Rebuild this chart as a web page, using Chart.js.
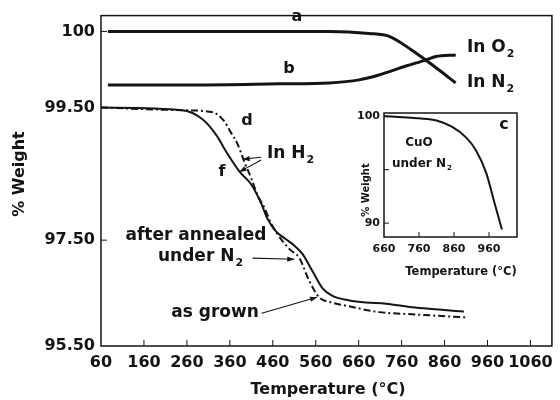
<!DOCTYPE html>
<html><head><meta charset="utf-8">
<script src="https://cdn.jsdelivr.net/npm/chart.js@4/dist/chart.umd.min.js"></script>
<style>
html,body{margin:0;padding:0;background:#fff;}
#wrap{position:relative;width:560px;height:400px;background:#fff;}
canvas{position:absolute;left:0;top:0;}
</style></head><body>
<div id="wrap"><canvas id="main" width="560" height="400"></canvas><canvas id="inset" width="560" height="400"></canvas></div>
<script>
// ---------- data ----------
const xTickValues = [60,160,260,360,460,560,660,760,860,960,1060];
const yTickValues = [95.5, 97.5, 99.5, 100];
const yTickLabels = ['95.50','97.50','99.50','100'];

// curve a (In N2, wavy trace)
const tempA   = [76, 290, 522, 591, 684, 731, 784, 816, 847, 886];
const weightA = [100.0, 100.0, 100.0, 100.0, 99.987, 99.968, 99.877, 99.812, 99.747, 99.662];
// curve b (In O2, wavy trace)
const tempB   = [76, 290, 475, 591, 661, 707, 770, 816, 840, 886];
const weightB = [99.649, 99.649, 99.656, 99.662, 99.682, 99.714, 99.773, 99.812, 99.835, 99.846];
// curve f (solid, after annealed under N2)
const tempF   = [60, 250, 297, 329, 352, 383, 410, 434, 447, 468, 489, 510, 529, 552, 575, 598, 638, 677, 724, 784, 847, 905];
const weightF = [99.50, 99.46, 99.32, 99.08, 98.83, 98.53, 98.34, 98.04, 97.83, 97.63, 97.52, 97.40, 97.24, 96.92, 96.60, 96.45, 96.36, 96.32, 96.30, 96.23, 96.19, 96.15];
// curve d (dash-dot, as grown)
const tempD   = [60, 250, 320, 345, 362, 378, 394, 410, 424, 441, 457, 471, 499, 522, 545, 568, 598, 638, 707, 784, 909];
const weightD = [99.50, 99.46, 99.43, 99.31, 99.13, 98.95, 98.68, 98.43, 98.19, 97.98, 97.74, 97.59, 97.33, 97.16, 96.73, 96.42, 96.32, 96.25, 96.14, 96.10, 96.04];

// inset c: CuO under N2
const insetXTicks = [660, 760, 860, 960];
const insetYTicks = [90, 95, 100];
const insetYLabels = ['90', '', '100'];
const tempC   = [660, 714, 760, 810, 855, 895, 923, 952, 974, 997];
const weightC = [100.0, 99.9, 99.8, 99.6, 99.0, 98.0, 96.8, 94.7, 92.1, 89.4];

// ---------- broken (piecewise) weight axis ----------
const AXIS_BREAK_UNITS = [0, 107, 241, 318];
const AXIS_TOP = 334;
function toAxis(v){
  const b = yTickValues, u = AXIS_BREAK_UNITS;
  let i = 0;
  if (v <= b[0]) i = 0; else if (v >= b[b.length-1]) i = b.length-2;
  else { while (!(v >= b[i] && v <= b[i+1])) i++; }
  return u[i] + (v - b[i]) * (u[i+1]-u[i]) / (b[i+1]-b[i]);
}
const pts = (xs, ys, f) => xs.map((x,i)=>({x, y: f ? f(ys[i]) : ys[i]}));

Chart.defaults.font.family = "'DejaVu Sans', sans-serif";
Chart.defaults.font.weight = 'bold';
Chart.defaults.color = '#111';
Chart.defaults.animation = false;

const INK = '#141414';

function arrow(ctx, x1, y1, x2, y2){
  ctx.beginPath(); ctx.moveTo(x1,y1); ctx.lineTo(x2,y2); ctx.stroke();
  const a = Math.atan2(y2-y1, x2-x1), L = 7, W = 2.6;
  ctx.beginPath();
  ctx.moveTo(x2, y2);
  ctx.lineTo(x2 - L*Math.cos(a) + W*Math.sin(a), y2 - L*Math.sin(a) - W*Math.cos(a));
  ctx.lineTo(x2 - L*Math.cos(a) - W*Math.sin(a), y2 - L*Math.sin(a) + W*Math.cos(a));
  ctx.closePath(); ctx.fill();
}
function subText(ctx, main, sub, x, y, size){
  ctx.font = `bold ${size}px 'DejaVu Sans'`;
  ctx.textAlign = 'left'; ctx.textBaseline = 'middle';
  ctx.fillText(main, x, y);
  const w = ctx.measureText(main).width;
  ctx.font = `bold ${Math.round(size*0.62)}px 'DejaVu Sans'`;
  ctx.fillText(sub, x + w + 1, y + size*0.38);
}

const mainDecor = {
  id: 'mainDecor',
  afterDraw(chart){
    const ctx = chart.ctx, a = chart.chartArea, xs = chart.scales.x, ys = chart.scales.y;
    ctx.save();
    ctx.strokeStyle = INK; ctx.fillStyle = INK;
    ctx.lineWidth = 1.5;
    ctx.strokeRect(a.left, a.top, a.right - a.left, a.bottom - a.top);
    ctx.lineWidth = 1;
    // inward ticks
    xTickValues.forEach(v => {
      if (v === xs.min) return;
      const px = xs.getPixelForValue(v);
      ctx.beginPath(); ctx.moveTo(px, a.bottom); ctx.lineTo(px, a.bottom - 6); ctx.stroke();
    });
    yTickValues.forEach(v => {
      const py = ys.getPixelForValue(toAxis(v));
      if (Math.abs(py - a.bottom) < 1) return;
      ctx.beginPath(); ctx.moveTo(a.left, py); ctx.lineTo(a.left + 6, py); ctx.stroke();
    });
    // axis titles
    ctx.font = "bold 16px 'DejaVu Sans'";
    ctx.textAlign = 'center'; ctx.textBaseline = 'middle';
    ctx.fillText('Temperature (°C)', 328, 390);
    ctx.save(); ctx.translate(20, 174); ctx.rotate(-Math.PI/2);
    ctx.fillText('% Weight', 0, 0); ctx.restore();
    // curve labels
    ctx.font = "bold 16px 'DejaVu Sans'";
    ctx.fillText('a', 297, 17);
    ctx.fillText('b', 289, 69);
    ctx.fillText('d', 247, 121);
    ctx.fillText('f', 222, 172);
    subText(ctx, 'In O', '2', 467, 48, 17);
    subText(ctx, 'In N', '2', 467, 83, 17);
    subText(ctx, 'In H', '2', 267, 154, 17);
    ctx.font = "bold 17px 'DejaVu Sans'";
    ctx.textAlign = 'center';
    ctx.fillText('after annealed', 196, 236);
    subText(ctx, 'under N', '2', 158, 257, 17);
    ctx.textAlign = 'center';
    ctx.font = "bold 17px 'DejaVu Sans'";
    ctx.fillText('as grown', 215, 313);
    // arrows (tips given in data coordinates)
    const P = (t, w) => [xs.getPixelForValue(t), ys.getPixelForValue(toAxis(w))];
    ctx.lineWidth = 1.1;
    [[[433, 98.75],[390, 98.72]], [[433, 98.71],[382, 98.53]],
     [[413, 97.16],[510, 97.14]], [[434, 96.12],[563, 96.42]]].forEach(([s, e]) => {
      const p1 = P(s[0], s[1]), p2 = P(e[0], e[1]);
      arrow(ctx, p1[0], p1[1], p2[0], p2[1]);
    });
    ctx.restore();
  }
};

const lineBase = {pointRadius: 0, borderColor: INK, fill: false, cubicInterpolationMode: 'monotone'};

new Chart(document.getElementById('main'), {
  type: 'line',
  data: { datasets: [
    {...lineBase, label: 'a (In N2)', data: pts(tempA, weightA, toAxis), borderWidth: 3},
    {...lineBase, label: 'b (In O2)', data: pts(tempB, weightB, toAxis), borderWidth: 3},
    {...lineBase, label: 'f (after annealed under N2)', data: pts(tempF, weightF, toAxis), borderWidth: 2},
    {...lineBase, label: 'd (as grown)', data: pts(tempD, weightD, toAxis), borderWidth: 2, borderDash: [7,3,2,3]}
  ]},
  options: {
    responsive: false, devicePixelRatio: 1, animation: false,
    layout: {padding: {top: 12, right: 6, left: 0, bottom: 0}},
    plugins: {legend: {display: false}, tooltip: {enabled: false}},
    scales: {
      x: {type: 'linear', min: 60, max: 1110,
          afterBuildTicks: s => { s.ticks = xTickValues.map(v => ({value: v})); },
          afterFit: s => { s.height = 54; },
          grid: {display: false, drawTicks: false}, border: {display: false},
          ticks: {padding: 7, autoSkip: false, maxRotation: 0, font: {size: 16, weight: 'bold'}, color: INK,
                  callback: v => String(v)}},
      y: {type: 'linear', min: 0, max: AXIS_TOP,
          afterBuildTicks: s => { s.ticks = yTickValues.map(v => ({value: toAxis(v)})); },
          afterFit: s => { s.width = 101; },
          grid: {display: false, drawTicks: false}, border: {display: false},
          ticks: {padding: 6, autoSkip: false, font: {size: 16, weight: 'bold'}, color: INK,
                  callback: (v, i) => yTickLabels[i]}}
    }
  },
  plugins: [mainDecor]
});

const insetDecor = {
  id: 'insetDecor',
  afterDraw(chart){
    const ctx = chart.ctx, a = chart.chartArea, xs = chart.scales.x, ys = chart.scales.y;
    ctx.save();
    ctx.strokeStyle = INK; ctx.fillStyle = INK;
    ctx.lineWidth = 1.5;
    ctx.strokeRect(a.left, a.top, a.right - a.left, a.bottom - a.top);
    ctx.lineWidth = 1;
    insetXTicks.forEach(v => {
      if (v === xs.min) return;
      const px = xs.getPixelForValue(v);
      ctx.beginPath(); ctx.moveTo(px, a.bottom); ctx.lineTo(px, a.bottom - 5); ctx.stroke();
    });
    insetYTicks.forEach(v => {
      const py = ys.getPixelForValue(v);
      ctx.beginPath(); ctx.moveTo(a.left, py); ctx.lineTo(a.left + 5, py); ctx.stroke();
    });
    ctx.textAlign = 'center'; ctx.textBaseline = 'middle';
    ctx.font = "bold 11.5px 'DejaVu Sans'";
    ctx.fillText('Temperature (°C)', 461, 272);
    ctx.save(); ctx.translate(366, 190); ctx.rotate(-Math.PI/2);
    ctx.font = "bold 10px 'DejaVu Sans'";
    ctx.fillText('% Weight', 0, 0); ctx.restore();
    ctx.font = "bold 12px 'DejaVu Sans'";
    ctx.fillText('CuO', 419, 143);
    subText(ctx, 'under N', '2', 392, 164, 12);
    ctx.textAlign = 'center';
    ctx.font = "bold 16px 'DejaVu Sans'";
    ctx.fillText('c', 504, 125);
    ctx.restore();
  }
};

new Chart(document.getElementById('inset'), {
  type: 'line',
  data: { datasets: [
    {...lineBase, label: 'c (CuO under N2)', data: pts(tempC, weightC), borderWidth: 2}
  ]},
  options: {
    responsive: false, devicePixelRatio: 1, animation: false,
    layout: {padding: {top: 113, right: 43, left: 300, bottom: 133}},
    plugins: {legend: {display: false}, tooltip: {enabled: false}},
    scales: {
      x: {type: 'linear', min: 660, max: 1040,
          afterBuildTicks: s => { s.ticks = insetXTicks.map(v => ({value: v})); },
          afterFit: s => { s.height = 30; },
          grid: {display: false, drawTicks: false}, border: {display: false},
          ticks: {padding: 6, autoSkip: false, maxRotation: 0, font: {size: 11, weight: 'bold'}, color: INK,
                  callback: v => String(v)}},
      y: {type: 'linear', min: 88.7, max: 100.3,
          afterBuildTicks: s => { s.ticks = insetYTicks.map(v => ({value: v})); },
          afterFit: s => { s.width = 84; },
          grid: {display: false, drawTicks: false}, border: {display: false},
          ticks: {padding: 4, autoSkip: false, font: {size: 11, weight: 'bold'}, color: INK,
                  callback: (v, i) => insetYLabels[i]}}
    }
  },
  plugins: [insetDecor]
});
</script>
</body></html>
